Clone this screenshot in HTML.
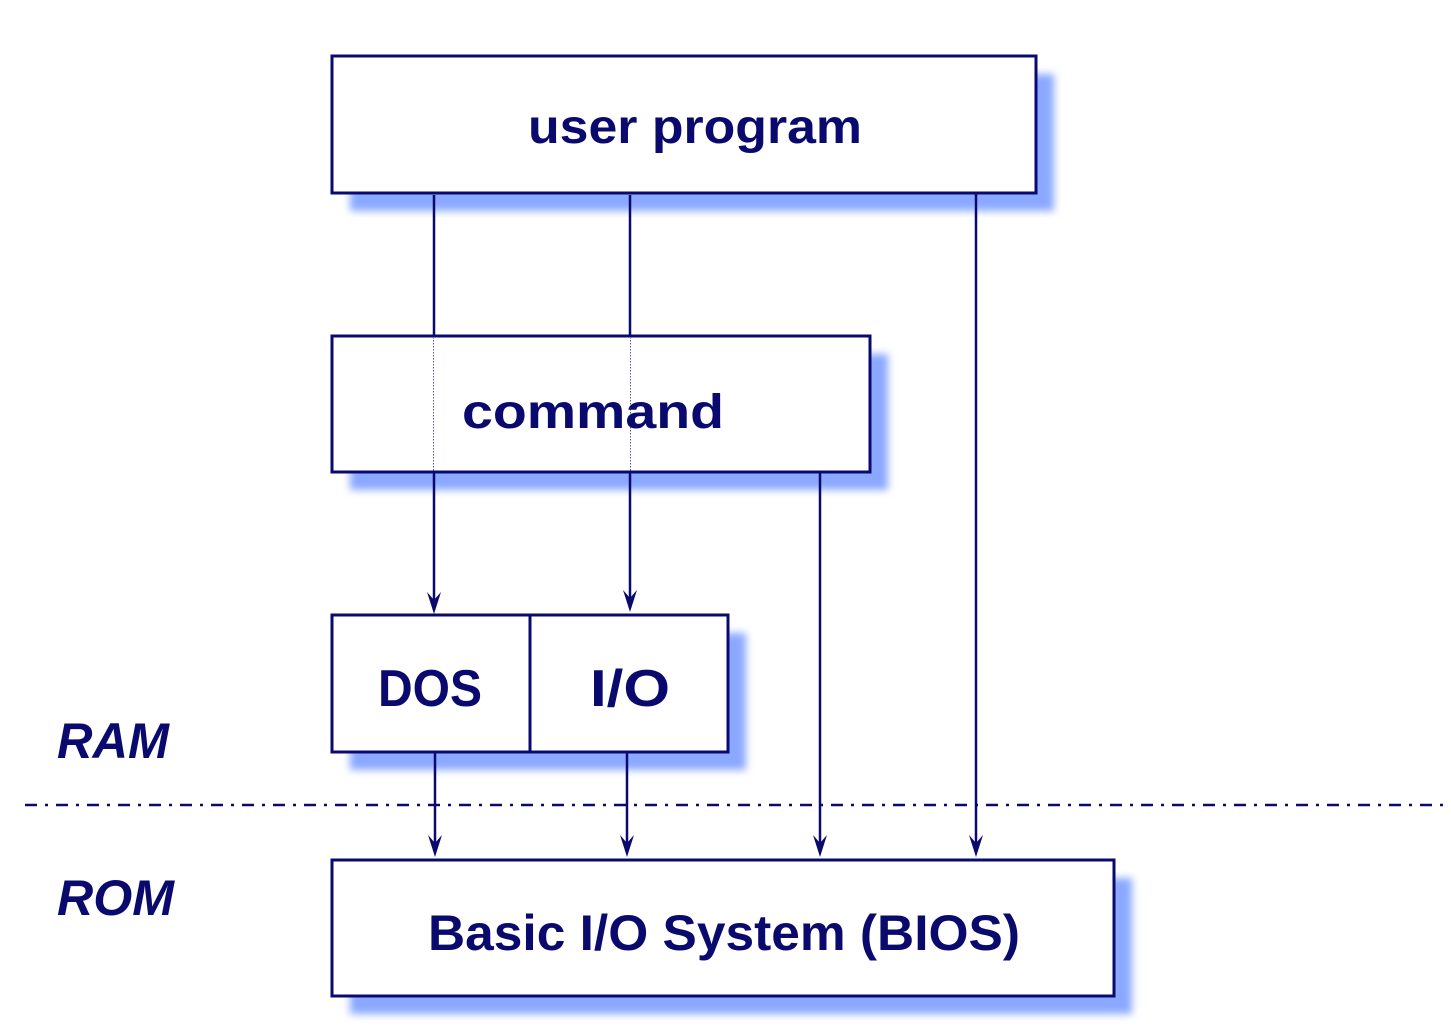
<!DOCTYPE html>
<html><head><style>html,body{margin:0;padding:0;background:#fff}</style></head>
<body>
<svg width="1451" height="1030" xmlns="http://www.w3.org/2000/svg">
<defs>
<filter id="sh" x="-10%" y="-20%" width="130%" height="150%"><feGaussianBlur stdDeviation="4"/></filter>
<marker id="ar" viewBox="0 0 14 20" refX="7" refY="20" markerWidth="14" markerHeight="20" markerUnits="userSpaceOnUse" orient="auto-start-reverse">
</marker>
</defs>
<g fill="#8aa8ff" filter="url(#sh)">
<rect x="350" y="74" width="704" height="137"/>
<rect x="350" y="354" width="538" height="136"/>
<rect x="350" y="633" width="396" height="137"/>
<rect x="350" y="878" width="782" height="136"/>
</g>
<g fill="#fff" stroke="#0a0a6e" stroke-width="3">
<rect x="332" y="56" width="704" height="137"/>
<rect x="332" y="336" width="538" height="136"/>
<rect x="332" y="615" width="198" height="137"/>
<rect x="530" y="615" width="198" height="137"/>
<rect x="332" y="860" width="782" height="136"/>
</g>
<g stroke="#0a0a6e" stroke-width="2.5" fill="none">
<line x1="434" y1="195" x2="434" y2="336"/>
<line x1="434" y1="472" x2="434" y2="610"/>
<line x1="630" y1="195" x2="630" y2="336"/>
<line x1="630" y1="472" x2="630" y2="608"/>
<line x1="820" y1="472" x2="820" y2="852"/>
<line x1="976" y1="193" x2="976" y2="852"/>
<line x1="435" y1="752" x2="435" y2="852"/>
<line x1="627" y1="752" x2="627" y2="852"/>
</g>
<g stroke="#5555aa" stroke-width="1" stroke-dasharray="1.5,1.5">
<line x1="433.5" y1="337" x2="433.5" y2="471"/>
<line x1="630.5" y1="337" x2="630.5" y2="471"/>
</g>
<g fill="#0a0a6e">
<path d="M434,614 L427,592 L434,600 L441,592Z"/>
<path d="M630,612 L623,590 L630,598 L637,590Z"/>
<path d="M820,857 L813,835 L820,843 L827,835Z"/>
<path d="M976,857 L969,835 L976,843 L983,835Z"/>
<path d="M435,857 L428,835 L435,843 L442,835Z"/>
<path d="M627,857 L620,835 L627,843 L634,835Z"/>
</g>
<line x1="25" y1="805" x2="1451" y2="805" stroke="#0a0a6e" stroke-width="2.5" stroke-dasharray="12,8,3,8"/>
<g fill="#0a0a6e" font-family="Liberation Sans, sans-serif" font-weight="bold">
<text x="528" y="143" font-size="48" textLength="334" lengthAdjust="spacingAndGlyphs">user program</text>
<text x="462" y="428" font-size="48" textLength="262" lengthAdjust="spacingAndGlyphs">command</text>
<text x="378" y="706" font-size="52" textLength="104" lengthAdjust="spacingAndGlyphs">DOS</text>
<text x="590" y="706" font-size="52" textLength="80" lengthAdjust="spacingAndGlyphs">I/O</text>
<text x="428" y="950" font-size="50" textLength="592" lengthAdjust="spacingAndGlyphs">Basic I/O System (BIOS)</text>
<text x="57" y="758" font-size="50" font-style="italic" textLength="112" lengthAdjust="spacingAndGlyphs">RAM</text>
<text x="57" y="915" font-size="50" font-style="italic" textLength="117" lengthAdjust="spacingAndGlyphs">ROM</text>
</g>
</svg>
</body></html>
